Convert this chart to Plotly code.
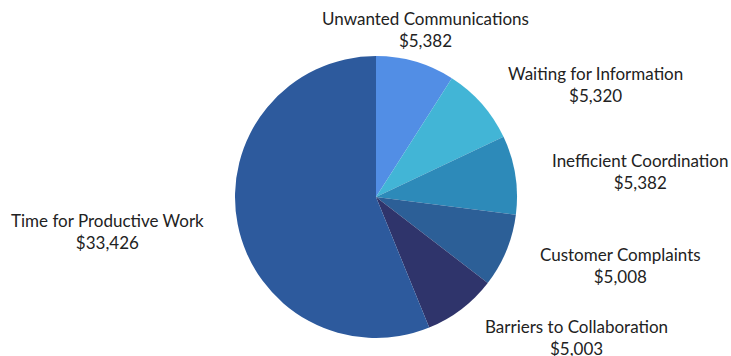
import plotly.graph_objects as go

labels = ["Unwanted Communications", "Waiting for Information", "Inefficient Coordination",
          "Customer Complaints", "Barriers to Collaboration", "Time for Productive Work"]
values = [5382, 5320, 5382, 5008, 5003, 33426]
colors = ["#528EE5", "#42B5D6", "#2D8AB9", "#2C5F97", "#2F346B", "#2D5A9D"]

# label anchor positions (pixels in 731x356 canvas): x center, y center
label_pos = [(425, 30), (595, 84), (640, 171), (620, 265), (576, 337), (107, 231)]

W, H = 731, 356
cx, cy, r = 376, 197, 141

fig = go.Figure(go.Pie(
    labels=labels, values=values, sort=False, direction="clockwise", rotation=0,
    marker=dict(colors=colors, line=dict(width=0)),
    textinfo="none", hoverinfo="label+value", showlegend=False,
    domain=dict(x=[(cx - r) / W, (cx + r) / W], y=[(H - cy - r) / H, (H - cy + r) / H]),
))

for lab, val, (px, py) in zip(labels, values, label_pos):
    fig.add_annotation(
        x=px / W, y=1 - py / H, xref="paper", yref="paper",
        text=f"{lab}<br>${val:,}", showarrow=False, align="center",
        xanchor="center", yanchor="middle",
        font=dict(family="Lato", size=17, color="#222222"),
    )

fig.update_layout(width=W, height=H, margin=dict(l=0, r=0, t=0, b=0),
                  paper_bgcolor="white", plot_bgcolor="white")
fig.write_html("out.html")
